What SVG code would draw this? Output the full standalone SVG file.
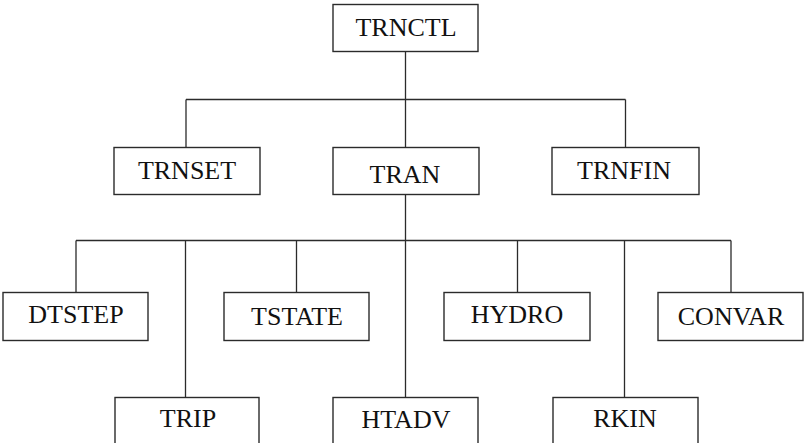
<svg xmlns="http://www.w3.org/2000/svg" width="804" height="443" viewBox="0 0 804 443">
<style>
.box{fill:#ffffff;stroke:#2b2b2b;stroke-width:1.4}
.lbl{font-family:"Liberation Serif","Times New Roman",serif;font-size:26px;fill:#111;text-anchor:middle}
.ln{fill:none;stroke:#2b2b2b;stroke-width:1.3}
</style>
<rect width="804" height="443" fill="#ffffff"/>
<g id="connectors">
<path class="ln" d="M405.5 51V99.5M186 99.5H625.5M186 99.5V147M405.5 99.5V147M625.5 99.5V147"/>
<path class="ln" d="M405.5 194V240.5M76 240.5H731M76 240.5V292M185.5 240.5V397M296.5 240.5V292M405.5 240.5V397M517.5 240.5V292M624.5 240.5V397M731 240.5V292"/>
</g>
<g id="TRNCTL"><rect class="box" x="333" y="4.5" width="145" height="47"/><text class="lbl" x="406" y="36">TRNCTL</text></g>
<g id="TRNSET"><rect class="box" x="114" y="147.5" width="146" height="47"/><text class="lbl" x="187" y="179">TRNSET</text></g>
<g id="TRAN"><rect class="box" x="333" y="147.5" width="146" height="47"/><text class="lbl" x="405" y="183">TRAN</text></g>
<g id="TRNFIN"><rect class="box" x="552" y="147.5" width="147" height="47"/><text class="lbl" x="624" y="179">TRNFIN</text></g>
<g id="DTSTEP"><rect class="box" x="3" y="292.5" width="145" height="48"/><text class="lbl" x="76" y="323">DTSTEP</text></g>
<g id="TSTATE"><rect class="box" x="224" y="292.5" width="145" height="48"/><text class="lbl" x="297" y="325">TSTATE</text></g>
<g id="HYDRO"><rect class="box" x="444" y="292.5" width="146" height="48"/><text class="lbl" x="517" y="323">HYDRO</text></g>
<g id="CONVAR"><rect class="box" x="658" y="292.5" width="145" height="48"/><text class="lbl" x="731" y="325">CONVAR</text></g>
<g id="TRIP"><rect class="box" x="115" y="397.5" width="144" height="48"/><text class="lbl" x="188" y="427">TRIP</text></g>
<g id="HTADV"><rect class="box" x="333" y="397.5" width="145" height="48"/><text class="lbl" x="406" y="428">HTADV</text></g>
<g id="RKIN"><rect class="box" x="553" y="397.5" width="145" height="48"/><text class="lbl" x="625" y="427">RKIN</text></g>
</svg>
